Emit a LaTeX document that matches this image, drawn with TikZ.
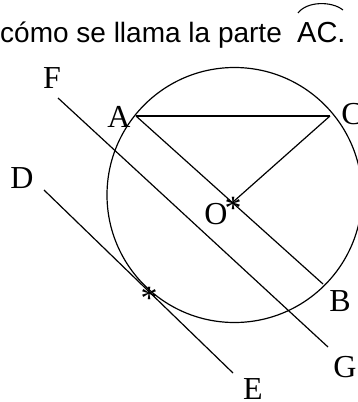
\documentclass[tikz,border=0pt]{standalone}
\usepackage{fontspec}
\setmainfont{Liberation Serif}
\newfontfamily\titlefont{Liberation Sans}
\begin{document}
\begin{tikzpicture}[x=1pt,y=-1pt,
  geo/.style={line width=1.2pt},
  lbl/.style={inner sep=0pt,font=\fontsize{32}{32}\selectfont},
  titletext/.style={anchor=base west,inner sep=0pt,font=\titlefont\fontsize{28}{28}\selectfont},
  actext/.style={anchor=base west,inner sep=0pt,font=\titlefont\fontsize{29}{29}\selectfont},
  starmark/.style={inner sep=0pt,font=\fontsize{34}{34}\selectfont}]
\useasboundingbox (0,0) rectangle (357,402);
% title
\node[titletext] (title) at (0,42) {cómo se llama la parte};
\node[actext] (ac) at (297,42) {AC.};
\draw[line width=1.1pt] (298,13) .. controls (307,1) and (332,1) .. (343,10);
% points
\coordinate (A) at (136,116);
\coordinate (C) at (330,116);
\coordinate (O) at (233,202);
\coordinate (B) at (323,284);
\coordinate (F1) at (58,98);
\coordinate (G1) at (328,347);
\coordinate (D1) at (44,190);
\coordinate (E1) at (233,373);
\coordinate (T) at (149,292);
\coordinate (M) at (234.5,195);
% circle
\draw[geo] (M) circle[radius=127.5pt];
% segments
\draw[geo] (A) -- (C);
\draw[geo] (C) -- (O);
\draw[geo] (A) -- (B);
\draw[geo] (F1) -- (G1);
\draw[geo] (D1) -- (E1);
% star marks
\node[starmark] (so) at ([yshift=-6pt]O) {*};
\node[starmark] (st) at ([yshift=-6pt]T) {*};
% labels
\node[lbl] (lF) at (52,78) {F};
\node[lbl] (lA) at (119,117) {A};
\node[lbl] (lC) at (352,114) {C};
\node[lbl] (lD) at (22,178) {D};
\node[lbl] (lO) at (216,214) {O};
\node[lbl] (lB) at (340,301) {B};
\node[lbl] (lG) at (345,367) {G};
\node[lbl] (lE) at (253,389) {E};
\end{tikzpicture}
\end{document}
